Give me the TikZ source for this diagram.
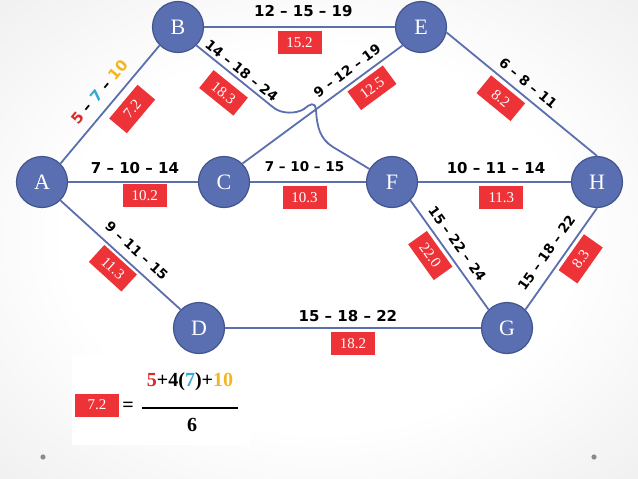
\documentclass[tikz,border=0pt]{standalone}
\usepackage{fontspec}
\setmainfont{Liberation Serif}
\newfontfamily\stimafont{DejaVu Sans}

% sfondo sfumato
\pgfdeclareradialshading{vignetta}{\pgfpoint{0bp}{0bp}}{color(0bp)=(white); color(20bp)=(white); color(44bp)=(black!9); color(71bp)=(black!26)}

\begin{document}
\begin{tikzpicture}[x=1pt, y=-1pt,
  nodo/.style={circle, fill=colNodo, draw=colBordo, line width=1.2pt, minimum size=51pt, inner sep=0pt, text=white, font=\fontsize{22}{22}\selectfont},
  arco/.style={draw=colArco, line width=1.8pt},
  stima/.style={sloped, above=#1, inner sep=0pt, font=\stimafont\bfseries\fontsize{15}{15}\selectfont},
  stima/.default=7.5pt,
  stimap/.style={stima=#1, font=\stimafont\bfseries\fontsize{13.5}{13.5}\selectfont},
  stimap/.default=7.5pt,
  rosso/.style={fill=colRosso, text=white, minimum width=44pt, minimum height=23pt, inner sep=1pt, font=\fontsize{15}{15}\selectfont},
  tempo/.style={rosso, sloped, below=#1},
  tempo/.default=3.5pt]

% Colori
\definecolor{colNodo}{HTML}{5A6EB2}
\definecolor{colBordo}{HTML}{42558F}
\definecolor{colArco}{HTML}{5B6FAE}
\definecolor{colRosso}{HTML}{EE3338}
\definecolor{colRed}{HTML}{E02828}
\definecolor{colCyan}{HTML}{2EAAD4}
\definecolor{colGold}{HTML}{F2B61E}
\definecolor{colPunto}{HTML}{8A8A8A}

% Sfondo
\useasboundingbox (0,0) rectangle (638,479);
\shade[shading=vignetta] (0,0) rectangle (638,479);
\fill[colPunto] (43,457) circle (2.6pt);
\fill[colPunto] (594,457) circle (2.6pt);

% Nodi
\node[nodo] (A) at (42,182) {A};
\node[nodo] (B) at (178,27) {B};
\node[nodo] (C) at (224,182) {C};
\node[nodo] (D) at (199,328) {D};
\node[nodo] (E) at (421,27) {E};
\node[nodo] (F) at (392,182) {F};
\node[nodo] (G) at (507,328) {G};
\node[nodo] (H) at (597,182) {H};

% Archi con stime e tempi attesi
\draw[arco] (A.45) -- (B.225)
  node[stima=9.5pt, pos=0.52] {{\color{colRed}5} – {\color{colCyan}7} – {\color{colGold}10}}
  node[tempo=7.5pt, pos=0.57] {7.2};
\draw[arco] (B.east) -- (E.west)
  node[stima=9pt, pos=0.52] {12 – 15 – 19}
  node[tempo, pos=0.5] {15.2};
\draw[arco] (A.east) -- (C.west)
  node[stima=7pt, pos=0.515] {7 – 10 – 14}
  node[tempo=1.5pt, pos=0.59] {10.2};
\draw[arco] (C.east) -- (F.west)
  node[stimap=9pt, pos=0.47] {7 – 10 – 15}
  node[tempo, pos=0.47] {10.3};
\draw[arco] (F.east) -- (H.west)
  node[stima=7.5pt, pos=0.51] {10 – 11 – 14}
  node[tempo, pos=0.545] {11.3};
\draw[arco] (D.east) -- (G.west)
  node[stima=5pt, pos=0.48] {15 – 18 – 22}
  node[tempo, pos=0.5] {18.2};
\draw[arco] (A.-45) -- (D.135)
  node[stimap=8pt, pos=0.556] {9 – 11 – 15}
  node[tempo=2.5pt, pos=0.52] {11.3};
\draw[arco] (C.45) -- (E.225)
  node[stimap=6.6pt, pos=0.70] {9 – 12 – 19}
  node[tempo, pos=0.75] {12.5};
\draw[arco] (E.-12) -- (H.north)
  node[stimap=6.5pt, pos=0.49] {6 – 8 – 11}
  node[tempo=4pt, pos=0.43] {8.2};
\draw[arco] (F.-45) -- (G.135)
  node[stimap=7pt, pos=0.465] {15 – 22 – 24}
  node[tempo, pos=0.42] {22.0};
\draw[arco] (G.45) -- (H.south)
  node[stimap=9.5pt, pos=0.47] {15 – 18 – 22}
  node[tempo, pos=0.59] {8.3};

% B-F con salto sopra C-E
\draw[arco] (B.-45) -- (274,108)
  node[stimap=3pt, pos=0.51] {14 – 18 – 24}
  node[tempo=7.5pt, pos=0.51] {18.3}
  .. controls (282,114) and (296,114) .. (304,109)
  .. controls (310,104) and (315,101) .. (316,110)
  .. controls (317,127) and (320,139) .. (333,147)
  -- (F.150);

% Formula
\node[fill=white, minimum width=178pt, minimum height=90pt, anchor=north west] (riquadro) at (72,355) {};
\node[rosso] (esempio) at (97,405) {7.2};
\node[font=\bfseries\fontsize{20}{20}\selectfont] (uguale) at (128,407) {=};
\node[font=\bfseries\fontsize{20}{20}\selectfont] (num) at (190,382) {{\color{colRed}5}+4({\color{colCyan}7})+{\color{colGold}10}};
\draw[line width=1.6pt] (142,408) -- (238,408);
\node[font=\bfseries\fontsize{20}{20}\selectfont] (den) at (192,425) {6};

\end{tikzpicture}
\end{document}
